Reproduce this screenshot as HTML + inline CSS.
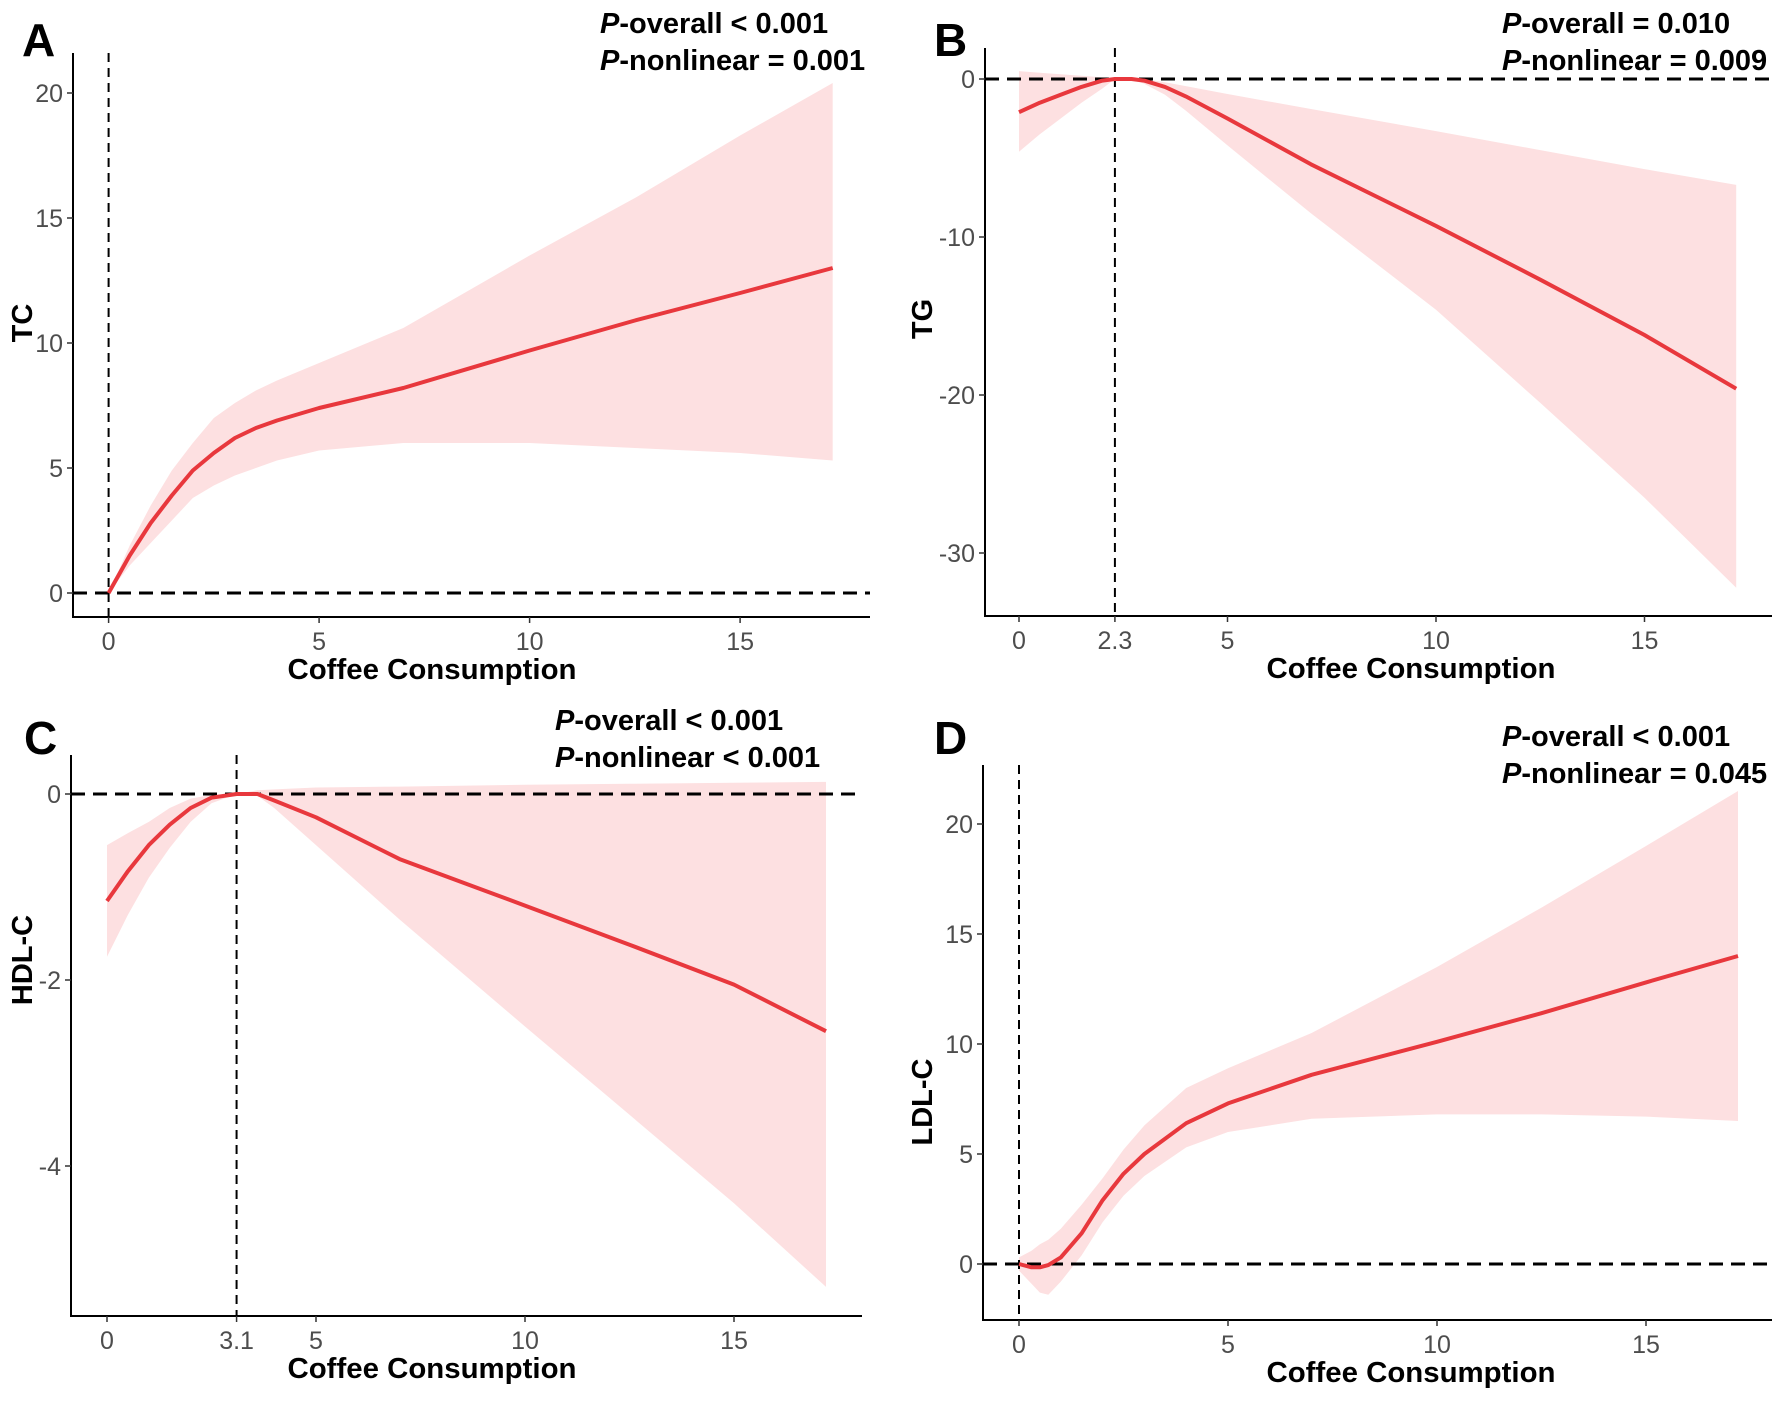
<!DOCTYPE html>
<html><head><meta charset="utf-8"><style>
html,body{margin:0;padding:0;background:#fff;}
svg{display:block;font-family:"Liberation Sans",Arial,sans-serif;}
.tick{font-size:25px;fill:#4d4d4d;}
.ttl{font-size:29px;font-weight:bold;fill:#000;}
.pv{font-size:29px;font-weight:bold;fill:#000;}
.lab{font-size:46px;font-weight:bold;fill:#000;}
</style></head><body>
<svg id="fig" width="1772" height="1401" viewBox="0 0 1772 1401"></svg>
<script>
// Panel A (TC)
const xA=[0,0.5,1,1.5,2,2.5,3,3.5,4,5,7,10,12.5,15,17.2];
const fitA=[0,1.5,2.8,3.9,4.9,5.6,6.2,6.6,6.9,7.4,8.2,9.7,10.9,12,13];
const upA=[0,1.9,3.5,4.9,6,7,7.6,8.1,8.5,9.2,10.6,13.5,15.8,18.3,20.4];
const loA=[0,1.1,2,2.9,3.8,4.3,4.7,5,5.3,5.7,6,6,5.8,5.6,5.3];
// Panel B (TG)
const xB=[0,0.5,1,1.5,2,2.3,2.7,3,3.5,4,5,7,10,12.5,15,17.2];
const fitB=[-2.1,-1.5,-1,-0.5,-0.1,0,0,-0.1,-0.5,-1.1,-2.5,-5.4,-9.3,-12.7,-16.2,-19.6];
const upB=[0.5,0.4,0.3,0.2,0.1,0,0,0,-0.2,-0.45,-0.95,-1.9,-3.3,-4.5,-5.7,-6.7];
const loB=[-4.6,-3.5,-2.5,-1.5,-0.6,0,-0.05,-0.3,-1,-2,-4.2,-8.5,-14.6,-20.5,-26.5,-32.2];
// Panel C (HDL-C)
const xC=[0,0.5,1,1.5,2,2.5,3.1,3.6,4,5,7,10,12.5,15,17.2];
const fitC=[-1.15,-0.83,-0.55,-0.33,-0.15,-0.04,0,0,-0.07,-0.25,-0.7,-1.2,-1.62,-2.05,-2.55];
const upC=[-0.55,-0.42,-0.3,-0.15,-0.05,-0.01,0,0.04,0.05,0.07,0.08,0.1,0.11,0.12,0.13];
const loC=[-1.75,-1.3,-0.9,-0.58,-0.3,-0.1,0,-0.02,-0.15,-0.55,-1.35,-2.5,-3.45,-4.4,-5.3];
// Panel D (LDL-C)
const xD=[0,0.3,0.5,0.7,1,1.5,2,2.5,3,4,5,7,10,12.5,15,17.2];
const fitD=[0,-0.15,-0.15,-0.05,0.3,1.4,2.9,4.1,5,6.4,7.3,8.6,10.1,11.4,12.8,14];
const upD=[0.3,0.6,0.9,1.1,1.6,2.7,3.9,5.2,6.3,8,8.9,10.5,13.5,16.2,19,21.5];
const loD=[-0.3,-0.9,-1.3,-1.4,-0.8,0.4,1.9,3.1,4,5.3,6,6.6,6.8,6.8,6.7,6.5];
const ticksXA=[0,5,10,15], ticksXB=[0,2.3,5,10,15], ticksXC=[0,3.1,5,10,15], ticksXD=[0,5,10,15];
const ticksYA=[0,5,10,15,20], ticksYB=[0,-10,-20,-30], ticksYC=[0,-2,-4], ticksYD=[0,5,10,15,20];

const NS="http://www.w3.org/2000/svg";
const svg=document.getElementById('fig');
function mk(tag,attrs,parent,text){const e=document.createElementNS(NS,tag);for(const k in attrs)e.setAttribute(k,attrs[k]);if(text!==undefined)e.textContent=text;(parent||svg).appendChild(e);return e;}

function panel(p){
  const g=mk('g',{});
  
  
  const sx=v=>p.x0+v*p.kx, sy=v=>p.y0-v*p.ky;
  let d='M'+p.xs.map((x,i)=>sx(x).toFixed(1)+','+sy(p.up[i]).toFixed(1)).join('L');
  for(let i=p.xs.length-1;i>=0;i--) d+='L'+sx(p.xs[i]).toFixed(1)+','+sy(p.lo[i]).toFixed(1);
  const band=mk('path',{d:d+'Z',fill:'#fde0e1'},g);
  
  
  const vl=mk('line',{x1:sx(p.vx),x2:sx(p.vx),y1:p.top,y2:p.axY,stroke:'#000','stroke-width':2,'stroke-dasharray':'9,6'},g);
  
  
  const hl=mk('line',{x1:p.axX,x2:p.right,y1:sy(0),y2:sy(0),stroke:'#000','stroke-width':3,'stroke-dasharray':'14,8'},g);
  
  
  const ln=mk('path',{d:'M'+p.xs.map((x,i)=>sx(x).toFixed(1)+','+sy(p.fit[i]).toFixed(1)).join('L'),fill:'none',stroke:'#e8383d','stroke-width':4,'stroke-linejoin':'round'},g);
  
  
  const ax=mk('path',{d:`M${p.axX},${p.top}V${p.axY}H${p.right}`,fill:'none',stroke:'#000','stroke-width':2},g);
  
  
  p.tx.forEach(v=>{
    mk('line',{x1:sx(v),x2:sx(v),y1:p.axY,y2:p.axY+6,stroke:'#333','stroke-width':1.5},g);
    const t=mk('text',{x:sx(v),y:p.axY+33,'text-anchor':'middle',class:'tick'},g,String(v));
    
    
  });
  p.ty.forEach(v=>{
    mk('line',{x1:p.axX-6,x2:p.axX,y1:sy(v),y2:sy(v),stroke:'#333','stroke-width':1.5},g);
    const t=mk('text',{x:p.axX-10,y:sy(v)+9,'text-anchor':'end',class:'tick'},g,String(v));
    
    
  });
  const xt=mk('text',{x:p.xtX,y:p.axY+62,'text-anchor':'middle',class:'ttl',textLength:289,lengthAdjust:'spacingAndGlyphs'},g,'Coffee Consumption');
  
  
  const yt=mk('text',{x:0,y:0,'text-anchor':'middle',class:'ttl',transform:`translate(${p.ytX},${p.ytY}) rotate(-90)`},g,p.yl);
  
  
  const lb=mk('text',{x:p.lbX,y:p.lbY,class:'lab'},g,p.id);
  
  
  p.pv.forEach((s,i)=>{
    const t=mk('text',{x:p.pX,y:p.pY+i*37,class:'pv'},g);
    
    
    mk('tspan',{'font-style':'italic'},t,'P');
    mk('tspan',{},t,s);
  });
}
panel({id:'A',xs:xA,fit:fitA,up:upA,lo:loA,tx:ticksXA,ty:ticksYA,x0:108.6,kx:42.1,y0:593,ky:25,axX:73,axY:617,top:53,right:870,vx:0,
  xtX:432,ytX:32,ytY:323,yl:'TC',lbX:22,lbY:56,pX:600,pY:33,pv:['-overall < 0.001','-nonlinear  = 0.001']});
panel({id:'B',xs:xB,fit:fitB,up:upB,lo:loB,tx:ticksXB,ty:ticksYB,x0:1019,kx:41.7,y0:79,ky:15.8,axX:985,axY:616,top:48,right:1772,vx:2.3,
  xtX:1411,ytX:932,ytY:319,yl:'TG',lbX:934,lbY:56,pX:1502,pY:33,pv:['-overall = 0.010','-nonlinear = 0.009']});
panel({id:'C',xs:xC,fit:fitC,up:upC,lo:loC,tx:ticksXC,ty:ticksYC,x0:107,kx:41.8,y0:794,ky:93,axX:71,axY:1316,top:755,right:862,vx:3.1,
  xtX:432,ytX:32,ytY:960,yl:'HDL-C',lbX:24,lbY:754,pX:555,pY:730,pv:['-overall < 0.001','-nonlinear < 0.001']});
panel({id:'D',xs:xD,fit:fitD,up:upD,lo:loD,tx:ticksXD,ty:ticksYD,x0:1019,kx:41.8,y0:1264,ky:22,axX:983,axY:1320,top:765,right:1772,vx:0,
  xtX:1411,ytX:932,ytY:1102,yl:'LDL-C',lbX:934,lbY:754,pX:1502,pY:746,pv:['-overall < 0.001','-nonlinear = 0.045']});
</script>
</body></html>
